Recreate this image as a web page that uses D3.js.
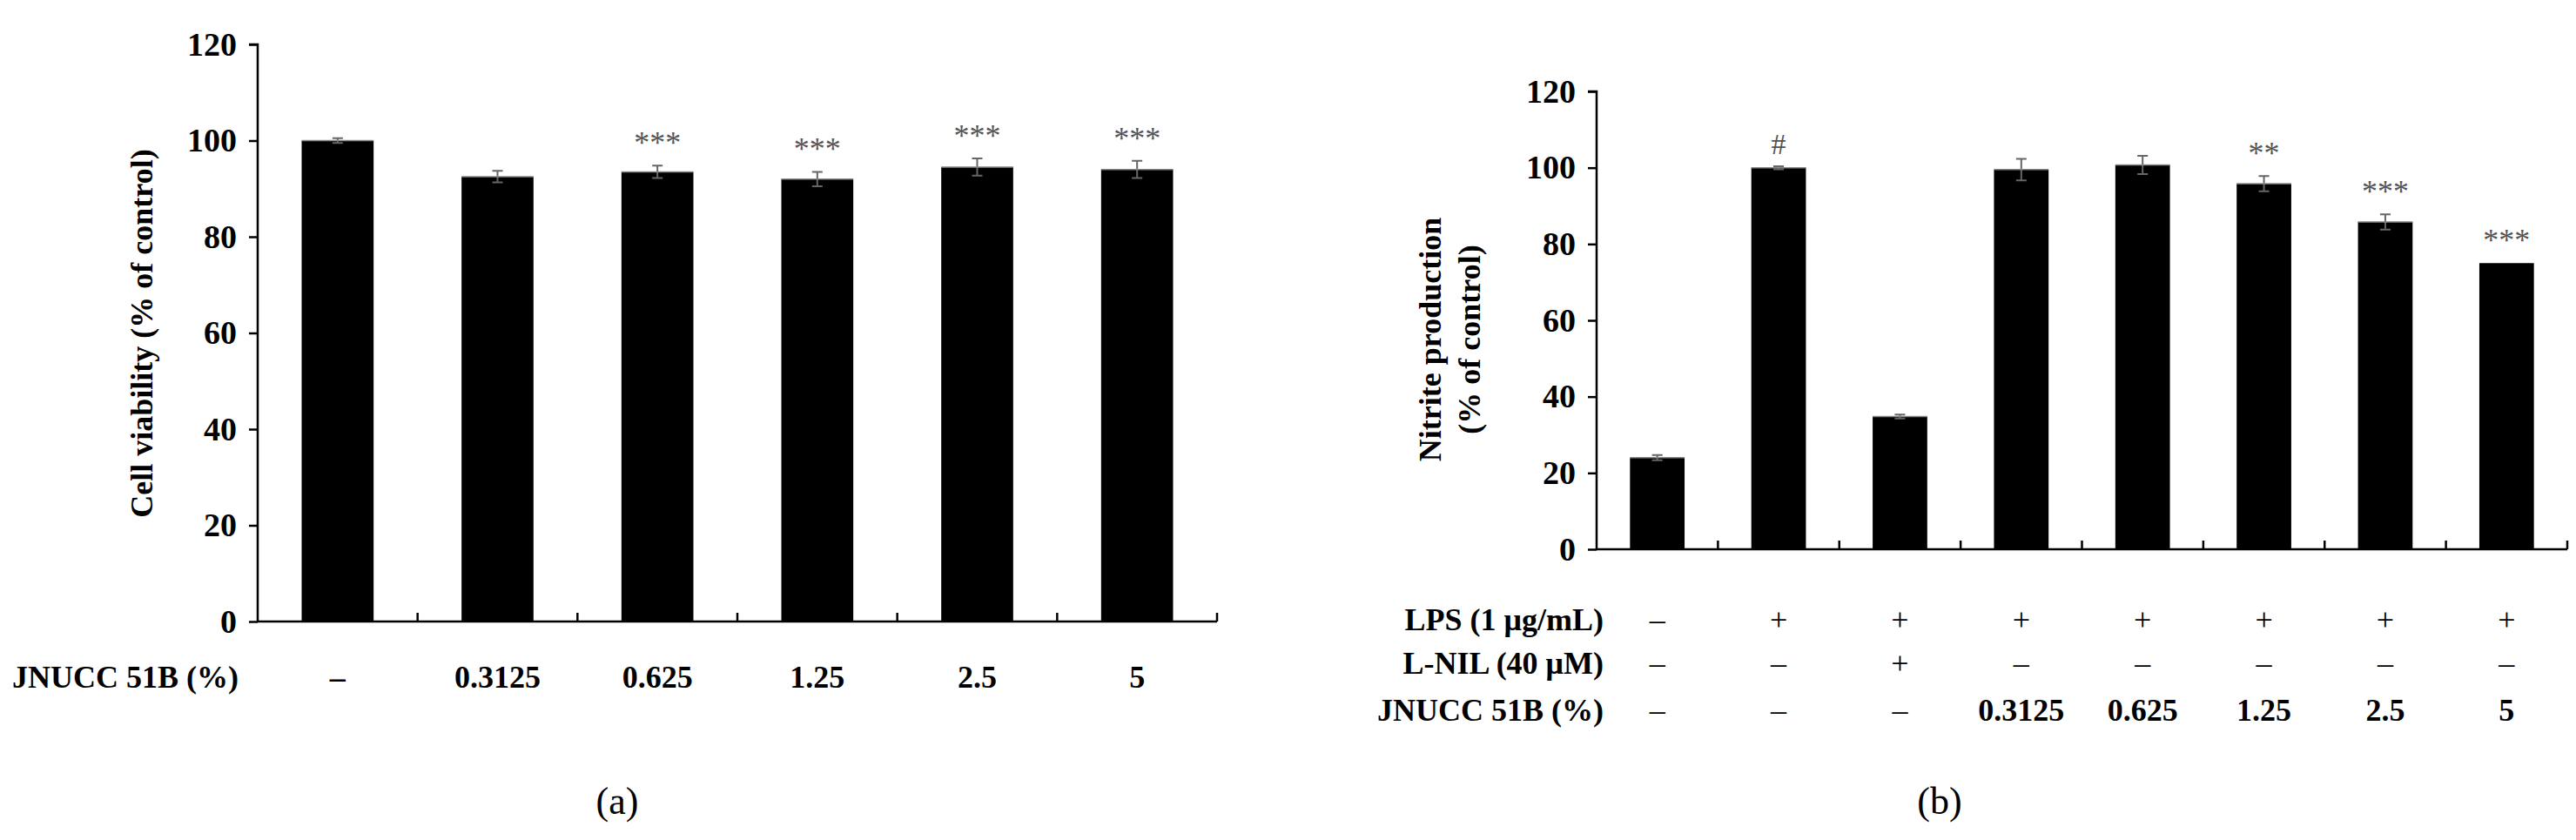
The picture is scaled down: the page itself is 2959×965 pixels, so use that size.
<!DOCTYPE html><html><head><meta charset="utf-8"><script src="https://cdn.jsdelivr.net/npm/d3@7"></script>
<style>body{margin:0;background:#fff}text{font-family:"Liberation Serif","Times New Roman",serif}</style></head><body>
<svg id="c" width="2959" height="965"></svg>
<script>
const catsA=["–","0.3125","0.625","1.25","2.5","5"];
const valsA=[100,92.5,93.5,92,94.5,94];
const errA=[0.5,1.2,1.3,1.5,1.8,1.8];
const sigA=["","","***","***","***","***"];
const lps=["–","+","+","+","+","+","+","+"];
const lnil=["–","–","+","–","–","–","–","–"];
const jn=["–","–","–","0.3125","0.625","1.25","2.5","5"];
const valsB=[24,100,34.8,99.5,100.7,95.8,85.8,75];
const errB=[0.7,0.4,0.5,2.8,2.4,2,2,0];
const sigB=["","#","","","","**","***","***"];
const yTicks=[0,20,40,60,80,100,120];
const svg=d3.select("#c");
function panel(o){
 const g=svg.append("g");
 const x=d3.scaleBand().domain(d3.range(o.vals.length)).range([o.x0,o.x1]).paddingInner(o.pad).paddingOuter(o.pad/2);
 const y=d3.scaleLinear().domain([0,120]).range([o.y0,o.y1]);
 const ya=g.append("g").attr("transform",`translate(${o.x0},0)`).call(d3.axisLeft(y).tickValues(yTicks).tickSize(10).tickPadding(14));
 ya.selectAll("text").attr("font-size",38).attr("font-weight","bold").attr("fill","#000");
 ya.select(".domain").attr("stroke-width",2.5).attr("d",`M-10,${y(120)}H0V${y(0)}`);
 ya.selectAll(".tick line").attr("stroke-width",2.5);
 const step=(o.x1-o.x0)/o.vals.length;
 g.append("line").attr("x1",o.x0).attr("x2",o.x1).attr("y1",y(0)).attr("y2",y(0)).attr("stroke","#000").attr("stroke-width",2.5);
 g.selectAll(".t").data(d3.range(1,o.vals.length+1)).join("line").attr("x1",i=>o.x0+i*step).attr("x2",i=>o.x0+i*step).attr("y1",y(0)).attr("y2",y(0)-10).attr("stroke","#000").attr("stroke-width",2.5);
 g.selectAll(".b").data(o.vals).join("rect").attr("x",(d,i)=>x(i)).attr("width",x.bandwidth()).attr("y",d=>y(d)).attr("height",d=>y(0)-y(d)).attr("fill","#000");
 o.vals.forEach((v,i)=>{const cx=x(i)+x.bandwidth()/2,e=o.err[i];
  if(e>0){g.append("path").attr("d",`M${cx},${y(v+e)}V${y(v-e)}M${cx-6},${y(v+e)}H${cx+6}M${cx-6},${y(v-e)}H${cx+6}`).attr("stroke","#666").attr("stroke-width",2).attr("fill","none");
   g.append("line").attr("x1",x(i)).attr("x2",x(i)+x.bandwidth()).attr("y1",y(v)).attr("y2",y(v)).attr("stroke","#888").attr("stroke-width",1.5);}
  if(o.sig[i])g.append("text").attr("x",cx).attr("y",y(v+e)-14).attr("text-anchor","middle").attr("font-size",o.sig[i]=="#"?34:36).attr("fill","#555").text(o.sig[i]);
 });
 return {x,y,g};
}
const A=panel({vals:valsA,err:errA,sig:sigA,x0:296,x1:1398,y0:714,y1:51,pad:0.55});
A.g.selectAll(".ca").data(catsA).join("text").attr("x",(d,i)=>A.x(i)+A.x.bandwidth()/2).attr("y",790).attr("text-anchor","middle").attr("font-size",36).attr("font-weight","bold").text(d=>d);
A.g.append("text").attr("x",14).attr("y",790).attr("font-size",36).attr("font-weight","bold").text("JNUCC 51B (%)");
A.g.append("text").attr("transform","translate(175,383) rotate(-90)").attr("text-anchor","middle").attr("font-size",36).attr("font-weight","bold").text("Cell viability (% of control)");
A.g.append("text").attr("x",709).attr("y",935).attr("text-anchor","middle").attr("font-size",44).text("(a)");
const B=panel({vals:valsB,err:errB,sig:sigB,x0:1834,x1:2949,y0:631,y1:105,pad:0.55});
[[lps,724,"LPS (1 μg/mL)"],[lnil,774,"L-NIL (40 μM)"],[jn,828,"JNUCC 51B (%)"]].forEach(([arr,yy,lab])=>{
 B.g.append("g").selectAll("text").data(arr).join("text").attr("x",(d,i)=>B.x(i)+B.x.bandwidth()/2).attr("y",yy).attr("text-anchor","middle").attr("font-size",36).attr("font-weight",d=>d=="+"||d=="–"?"normal":"bold").text(d=>d);
 B.g.append("text").attr("x",1842).attr("y",yy).attr("text-anchor","end").attr("font-size",36).attr("font-weight","bold").text(lab);
});
B.g.append("text").attr("transform","translate(1655,390) rotate(-90)").attr("text-anchor","middle").attr("font-size",36).attr("font-weight","bold").text("Nitrite production");
B.g.append("text").attr("transform","translate(1700,390) rotate(-90)").attr("text-anchor","middle").attr("font-size",36).attr("font-weight","bold").text("(% of control)");
B.g.append("text").attr("x",2228).attr("y",935).attr("text-anchor","middle").attr("font-size",44).text("(b)");
</script></body></html>
